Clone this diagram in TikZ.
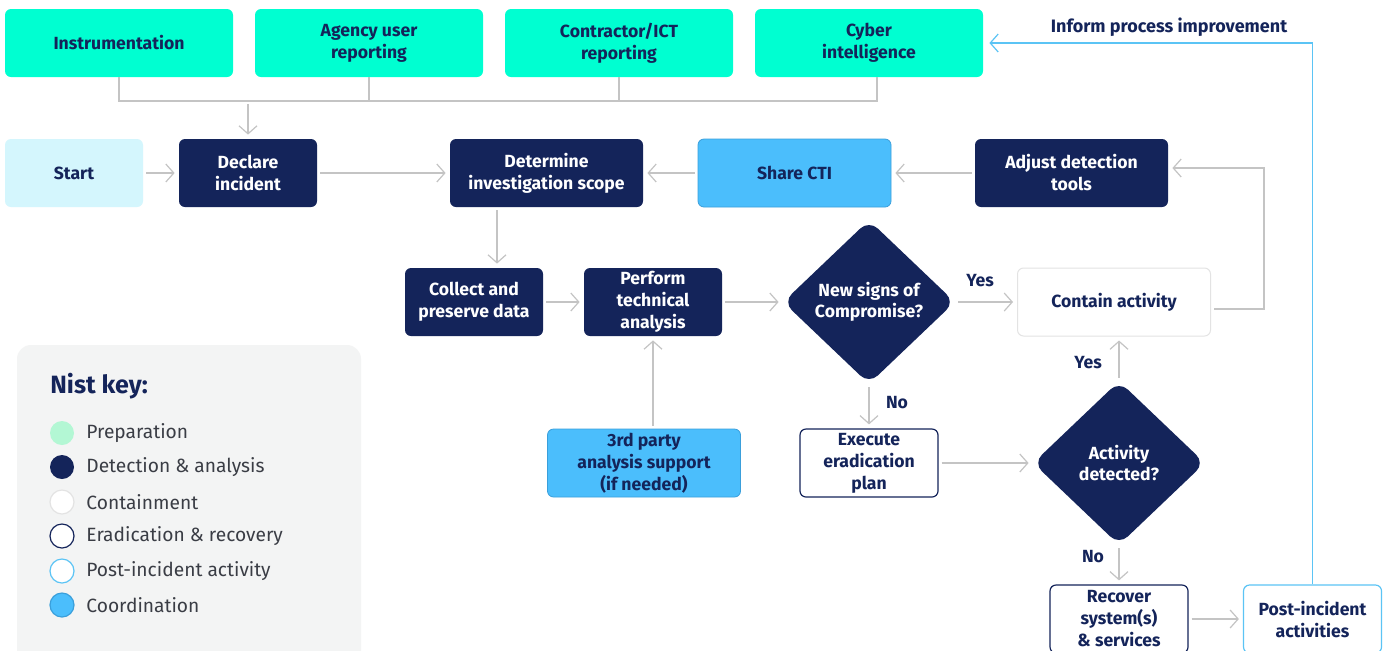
\documentclass[tikz,border=0pt]{standalone}
\usepackage{fontspec}
\setmainfont{Fira Sans}
\usetikzlibrary{shapes.geometric,arrows.meta}

\definecolor{navy}{HTML}{14245A}
\definecolor{prepteal}{HTML}{00FFD1}
\definecolor{prepmint}{HTML}{B3F7D4}
\definecolor{startcyan}{HTML}{D4F6FD}
\definecolor{coordblue}{HTML}{4BBEFC}
\definecolor{coordedge}{HTML}{3A9FDB}
\definecolor{postblue}{HTML}{5BC4F5}
\definecolor{linkgray}{HTML}{C4C4C4}
\definecolor{paleedge}{HTML}{E3E3E3}
\definecolor{keybg}{HTML}{F3F4F4}
\definecolor{keytext}{HTML}{3A3D45}

\tikzset{
  box/.style={rectangle, rounded corners=3pt, align=center, inner sep=0pt,
    minimum height=34pt, font=\bfseries\fontsize{8.8}{11}\selectfont},
  narrow/.style={box, minimum width=69pt},
  wide/.style={box, minimum width=96.5pt},
  prepbox/.style={box, minimum width=114pt, fill=prepteal, text=navy},
  startbox/.style={narrow, fill=startcyan, text=navy},
  detect/.style={fill=navy, text=white},
  containbox/.style={wide, fill=white, draw=paleedge, line width=0.5pt, text=navy},
  eradbox/.style={narrow, fill=white, draw=navy, line width=0.6pt, text=navy},
  postbox/.style={narrow, fill=white, draw=postblue, line width=0.6pt, text=navy},
  coordbox/.style={wide, fill=coordblue, draw=coordedge, line width=0.4pt, text=navy},
  decision/.style={diamond, fill=navy, text=white, align=center, inner sep=0pt,
    minimum width=86pt, minimum height=82pt, rounded corners=6pt,
    font=\bfseries\fontsize{8.8}{10.5}\selectfont},
  answer/.style={font=\bfseries\fontsize{8.8}{10}\selectfont, text=navy},
  link/.style={draw=linkgray, line width=0.6pt},
  flow/.style={link, -{Straight Barb[length=4pt,width=9pt]},
    shorten <=1.5pt, shorten >=2pt},
  feedback/.style={draw=postblue, line width=0.6pt,
    -{Straight Barb[length=4pt,width=9pt]}, shorten >=3pt},
  keydot/.style={circle, minimum size=12pt, inner sep=0pt, line width=0.6pt},
  keyprep/.style={fill=prepmint},
  keydetect/.style={fill=navy},
  keycontain/.style={fill=white, draw=paleedge},
  keyerad/.style={fill=white, draw=navy},
  keypost/.style={fill=white, draw=postblue},
  keycoord/.style={fill=coordblue, draw=coordedge},
  keylabel/.style={anchor=west, inner sep=0pt, text=keytext,
    font=\fontsize{9.6}{11}\selectfont},
}

\begin{document}
\begin{tikzpicture}[x=0.5pt,y=-0.5pt]

  \fill[white] (0,0) rectangle (1385,650);
  \useasboundingbox (0,0) rectangle (1385,650);

  \fill[keybg, rounded corners=7pt] (17,345) rectangle (361,690);
  \node[anchor=west, inner sep=0pt, text=navy, font=\bfseries\fontsize{12.5}{14}\selectfont]
    (keytitle) at (50,386) {Nist key:};
  \foreach \look/\ypos/\txt [count=\i] in {keyprep/433/Preparation,
      keydetect/467/Detection \& analysis, keycontain/502/Containment,
      keyerad/536/Eradication \& recovery, keypost/571/Post-incident activity,
      keycoord/605/Coordination} {
    \node[keydot,\look] (keydot\i) at (62,\ypos) {};
    \node[keylabel] (keytxt\i) at (86,\ypos) {\txt};
  }

  \node[prepbox] (instr) at (119,43) {Instrumentation};
  \node[prepbox] (agency) at (369,43) {Agency user\\reporting};
  \node[prepbox] (contractor) at (619,43) {Contractor/ICT\\reporting};
  \node[prepbox] (cyber) at (869,43) {Cyber\\intelligence};
  \node[answer, font=\bfseries\fontsize{9}{10}\selectfont] (inform) at (1169,27) {Inform process improvement};

  \node[startbox] (start) at (74,173) {Start};
  \node[narrow,detect] (declare) at (248,173) {Declare\\incident};
  \node[wide,detect] (scope) at (546.5,173) {Determine\\investigation scope};
  \node[coordbox] (share) at (794.5,173) {Share CTI};
  \node[wide,detect] (adjust) at (1071.5,173) {Adjust detection\\tools};

  \node[narrow,detect] (collect) at (474,302) {Collect and\\preserve data};
  \node[narrow,detect] (perform) at (653,302) {Perform\\technical\\analysis};
  \node[decision] (signs) at (869,302) {New signs of\\Compromise?};
  \node[containbox] (contain) at (1114,302) {Contain activity};

  \node[coordbox] (third) at (644,463) {3rd party\\analysis support\\(if needed)};
  \node[eradbox] (execute) at (869,463) {Execute\\eradication\\plan};
  \node[decision] (detected) at (1119,463) {Activity\\detected?};

  \node[eradbox] (recover) at (1119,619) {Recover\\system(s)\\\& services};
  \node[postbox] (post) at (1312.5,619) {Post-incident\\activities};

  \node[answer] (yes1) at (980,281) {Yes};
  \node[answer] (no1) at (897,403) {No};
  \node[answer] (yes2) at (1088,363) {Yes};
  \node[answer] (no2) at (1093,557) {No};

  \coordinate (merge) at (248,101);
  \coordinate (cyberfoot) at ([xshift=4pt]cyber.south);
  \draw[link] (instr.south) -- (instr.south |- merge) -- (cyberfoot |- merge) -- (cyberfoot);
  \draw[link] (agency.south) -- (agency.south |- merge);
  \draw[link] (contractor.south) -- (contractor.south |- merge);
  \draw[flow] (merge) -- (declare.north);

  \draw[flow] (start) -- (declare);
  \draw[flow] (declare) -- (scope);
  \draw[flow] (adjust) -- (share);
  \draw[flow] (share) -- (scope);
  \draw[flow] ([xshift=-24.75pt]scope.south) -- ([xshift=11.5pt]collect.north);
  \draw[flow] (collect) -- (perform);
  \draw[flow] (perform) -- (signs);
  \draw[flow] (signs) -- (contain);
  \draw[flow] (signs) -- (execute);
  \draw[flow] (third.north -| perform.south) -- (perform.south);
  \draw[flow] (execute) -- (detected);
  \draw[flow] (detected.north) -- (detected.north |- contain.south);
  \draw[flow] (detected) -- (recover);
  \draw[flow] (recover) -- (post);

  \coordinate (loop) at (1264,168);
  \draw[flow] ([yshift=-3.5pt]contain.east) -| (loop) -- ([yshift=2.5pt]adjust.east);
  \draw[feedback] (post.north) |- (cyber.east);

\end{tikzpicture}
\end{document}
